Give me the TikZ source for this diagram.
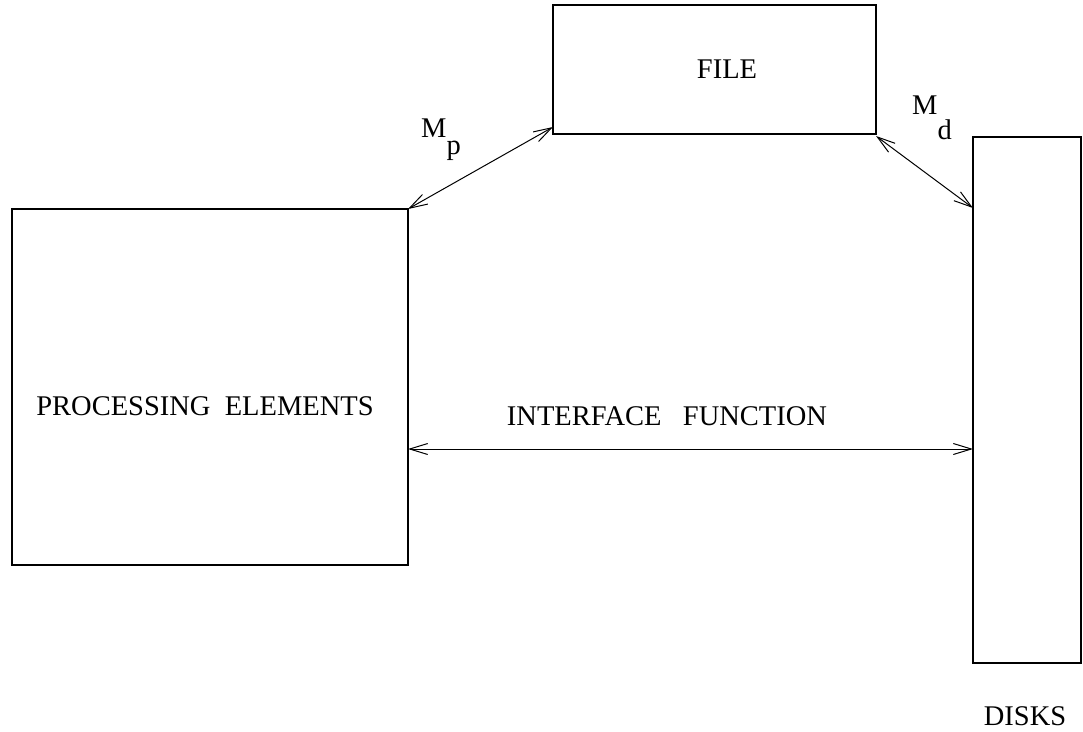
\documentclass[tikz,border=0pt]{standalone}
\usepackage{fontspec}
\setmainfont{Liberation Serif}
\usetikzlibrary{arrows.meta}
\tikzset{
  blk/.style={draw, line width=1.1pt, inner sep=0pt},
  lbl/.style={font=\fontsize{28.5}{33}\selectfont, inner sep=0pt, anchor=center},
  link/.style={line width=1pt, {Straight Barb[length=18pt,width=11pt,line width=1pt]}-{Straight Barb[length=18pt,width=11pt,line width=1pt]}}
}
\begin{document}
\begin{tikzpicture}[x=1pt,y=-1pt]
  \useasboundingbox (0,0) rectangle (1083,731);
  % boxes
  \draw[blk] (553,5) rectangle (876,134);
  \node[lbl] (file) at (727,69) {FILE};
  \draw[blk] (12,209) rectangle (408,565);
  \node[lbl] (pe) at (205,406) {PROCESSING\ \ ELEMENTS};
  \draw[blk] (973,137) rectangle (1081,663);
  \node[lbl] (disks) at (1025,716) {DISKS};
  % connection points on the boxes
  \coordinate (peTop) at (408,209);
  \coordinate (fileLeft) at (553,127);
  \coordinate (fileRight) at (876,136);
  \coordinate (diskTop) at (973,208);
  \coordinate (peSide) at (408,449);
  \coordinate (diskSide) at (973,449);
  % links
  \draw[link] (peTop) -- (fileLeft);
  \draw[link] (fileRight) -- (diskTop);
  \draw[link] (peSide) -- (diskSide);
  % labels
  \node[lbl] (ifun) at (667,416) {INTERFACE\ \ \ FUNCTION};
  \node[lbl, anchor=north west] (mp) at (421,119) {M\raisebox{-0.6em}{p}};
  \node[lbl, anchor=north west] (md) at (912,96) {M\raisebox{-0.85em}{d}};
\end{tikzpicture}
\end{document}
